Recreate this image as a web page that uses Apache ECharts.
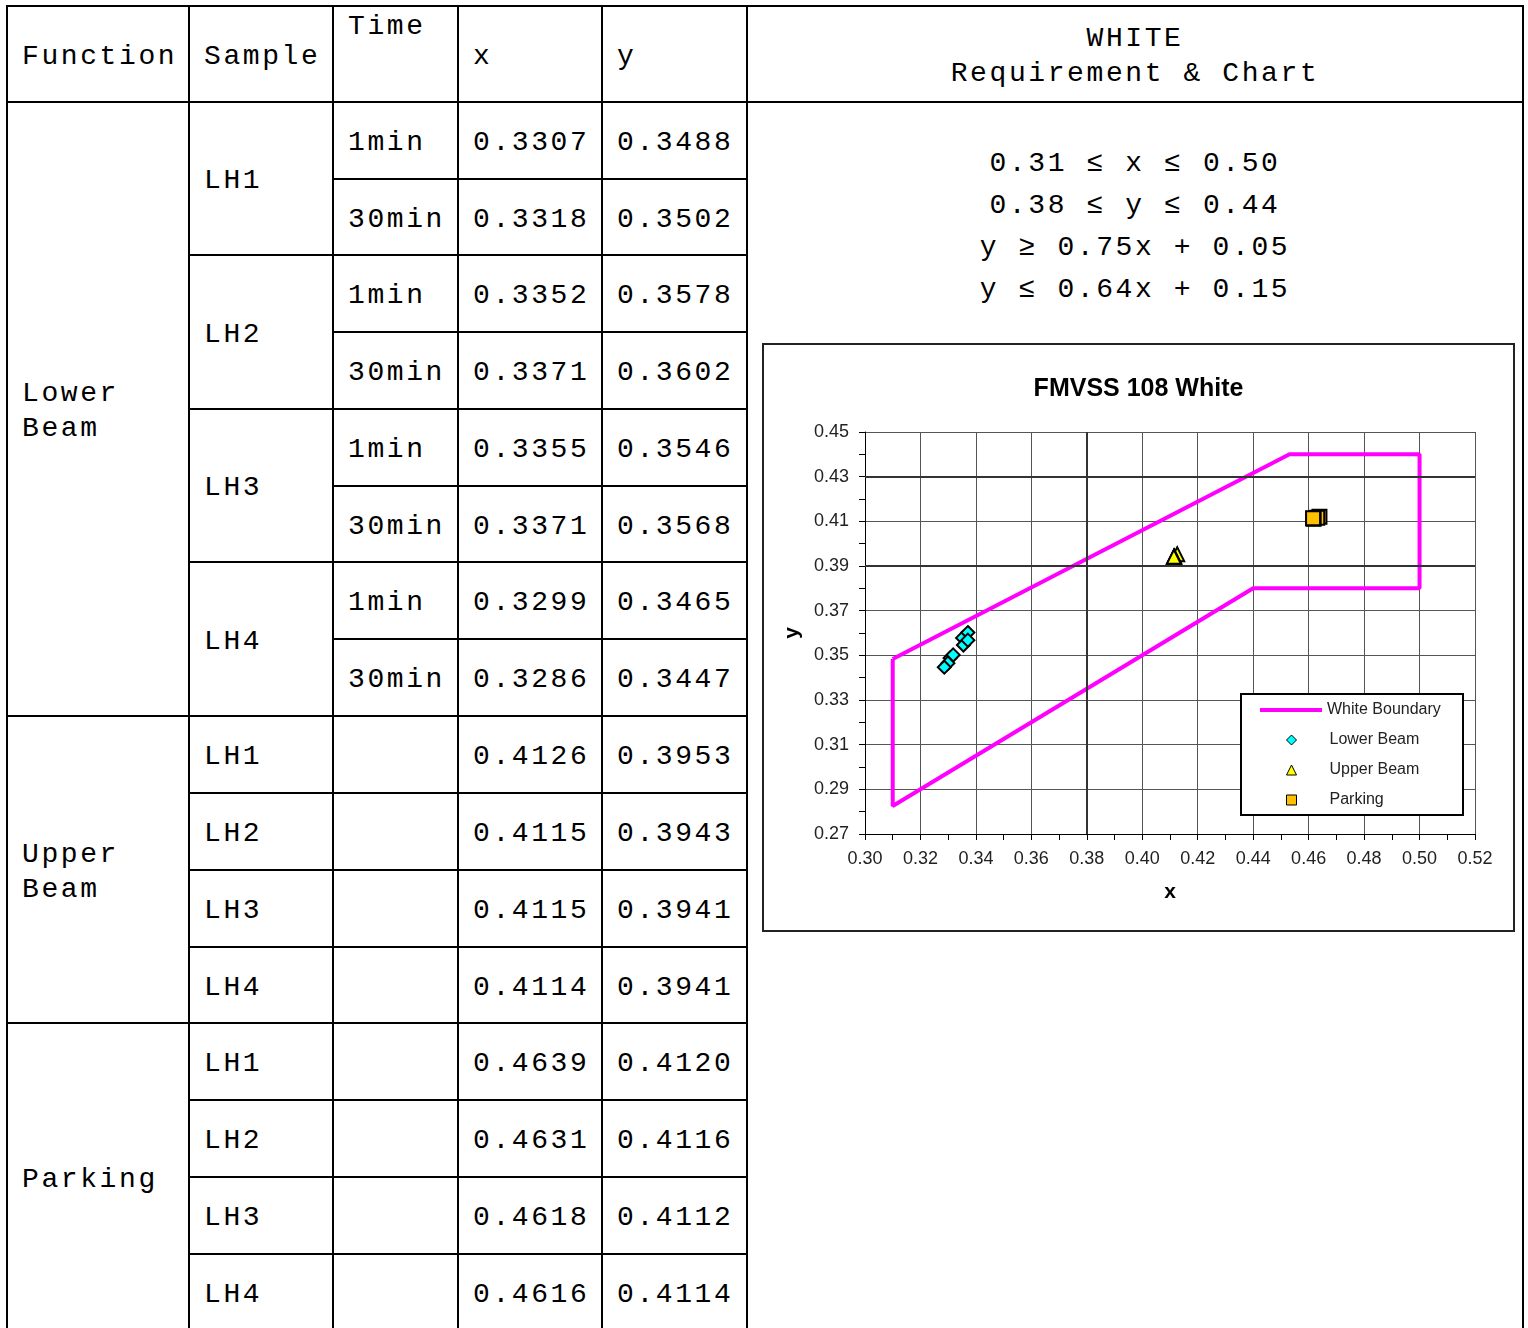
<!DOCTYPE html>
<html>
<head>
<meta charset="utf-8">
<title>WHITE Requirement &amp; Chart</title>
<script src="https://cdn.jsdelivr.net/npm/echarts@6/dist/echarts.min.js"></script>
<style>
html, body {
  margin: 0;
  padding: 0;
  width: 1528px;
  height: 1328px;
  overflow: hidden;
  background: #fff;
}
#tbl {
  position: absolute;
  left: 6px;
  top: 5px;
  display: grid;
  gap: 2px;
  padding: 2px;
  background: #000;
  grid-template-columns: 180px 142px 123px 142px 143px 774px;
  grid-template-rows: 94px 75px 74px 75px 75px 75px 74px 75px 75px 75px 75px 75px 74px 75px 75px 75px 75px;
}
.c {
  background: #fff;
  font-family: "Courier New", "Liberation Mono", monospace;
  font-size: 28px;
  letter-spacing: 2.6px;
  line-height: 35px;
  color: #000;
  display: flex;
  align-items: center;
  padding-left: 14px;
  padding-top: 4px;
  white-space: nowrap;
}
.c.top {
  align-items: flex-start;
  padding-top: 2px;
}
.c.mid {
  justify-content: center;
  text-align: center;
  padding-left: 0;
}
#req {
  position: absolute;
  left: 748px;
  top: 143px;
  width: 774px;
  text-align: center;
  font-family: "Courier New", "Liberation Mono", monospace;
  font-size: 28px;
  letter-spacing: 2.6px;
  line-height: 42px;
  color: #000;
  white-space: pre;
}
#box {
  position: absolute;
  left: 762px;
  top: 343px;
  width: 753px;
  height: 589px;
  box-sizing: border-box;
  border: 2px solid #222;
  background: #fff;
}
#chart {
  width: 749px;
  height: 585px;
}
</style>
</head>
<body>
<div id="tbl"></div>
<div id="req"></div>
<div id="box"><div id="chart"></div></div>

<script>
// measured values
var samples = ["LH1", "LH2", "LH3", "LH4"];
var times = ["1min", "30min"];

var lowerX = [0.3307, 0.3318, 0.3352, 0.3371, 0.3355, 0.3371, 0.3299, 0.3286];
var lowerY = [0.3488, 0.3502, 0.3578, 0.3602, 0.3546, 0.3568, 0.3465, 0.3447];
var upperX = [0.4126, 0.4115, 0.4115, 0.4114];
var upperY = [0.3953, 0.3943, 0.3941, 0.3941];
var parkX = [0.4639, 0.4631, 0.4618, 0.4616];
var parkY = [0.4120, 0.4116, 0.4112, 0.4114];

// white boundary corners
var boundaryX = [0.31, 0.4531, 0.50, 0.50, 0.44, 0.31, 0.31];
var boundaryY = [0.3484, 0.44, 0.44, 0.38, 0.38, 0.2825, 0.3484];

// darker grid lines
var heavyX = [0.38];
var heavyY = [0.39, 0.43];

var reqLines = [
  "0.31 \u2264 x \u2264 0.50",
  "0.38 \u2264 y \u2264 0.44",
  "y \u2265 0.75x + 0.05",
  "y \u2264 0.64x + 0.15"
];

function pairs(xs, ys) {
  return xs.map(function (x, i) {
    return [x, ys[i]];
  });
}

// ---- table ----
var tbl = document.getElementById("tbl");
function cell(html, row, col, span, cls) {
  var d = document.createElement("div");
  d.className = "c" + (cls ? " " + cls : "");
  d.innerHTML = html;
  d.style.gridRow = row + " / span " + (span || 1);
  d.style.gridColumn = col;
  tbl.appendChild(d);
}

cell("Function", 1, 1);
cell("Sample", 1, 2);
cell("Time", 1, 3, 1, "top");
cell("x", 1, 4);
cell("y", 1, 5);
cell("WHITE<br>Requirement &amp; Chart", 1, 6, 1, "mid");

var groups = [
  { name: "Lower<br>Beam", xs: lowerX, ys: lowerY, timed: true },
  { name: "Upper<br>Beam", xs: upperX, ys: upperY, timed: false },
  { name: "Parking", xs: parkX, ys: parkY, timed: false }
];

var row = 2;
groups.forEach(function (g) {
  cell(g.name, row, 1, g.xs.length);
  var per = g.timed ? times.length : 1;
  samples.forEach(function (s, si) {
    cell(s, row + si * per, 2, per);
  });
  g.xs.forEach(function (x, i) {
    cell(g.timed ? times[i % per] : "", row + i, 3);
    cell(x.toFixed(4), row + i, 4);
    cell(g.ys[i].toFixed(4), row + i, 5);
  });
  row += g.xs.length;
});
cell("", 2, 6, row - 2);

document.getElementById("req").textContent = reqLines.join("\n");

// ---- chart ----
var chart = echarts.init(document.getElementById("chart"));

var labelStyle = {
  fontFamily: "Arial",
  fontSize: 18,
  color: "#222",
  margin: 16,
  formatter: function (v) {
    return v.toFixed(2);
  }
};

chart.setOption({
  animation: false,
  title: {
    text: "FMVSS 108 White",
    left: "center",
    top: 27,
    textStyle: {
      fontFamily: "Arial",
      fontSize: 25,
      fontWeight: "bold",
      color: "#000"
    }
  },
  grid: { left: 101, right: 38, top: 87, bottom: 96 },
  graphic: [
    {
      type: "rect",
      z: 3,
      shape: { x: 477, y: 349, width: 222, height: 121 },
      style: { fill: "#fff", stroke: "#000", lineWidth: 2 }
    }
  ],
  legend: [
    {
      data: ["White Boundary"],
      left: 496,
      top: 356,
      padding: 0,
      icon: "rect",
      itemWidth: 62,
      itemHeight: 4,
      selectedMode: false,
      textStyle: { fontFamily: "Arial", fontSize: 16, lineHeight: 18, color: "#222" }
    },
    {
      data: ["Lower Beam", "Upper Beam", "Parking"],
      orient: "vertical",
      left: 522,
      top: 386,
      padding: 0,
      itemWidth: 10,
      itemHeight: 10,
      itemGap: 12,
      selectedMode: false,
      itemStyle: { borderWidth: 1 },
      textStyle: {
        fontFamily: "Arial",
        fontSize: 16,
        lineHeight: 18,
        color: "#222",
        padding: [0, 0, 0, 28]
      }
    }
  ],
  xAxis: {
    type: "value",
    min: 0.30,
    max: 0.52,
    interval: 0.02,
    name: "x",
    nameLocation: "middle",
    nameGap: 48,
    nameTextStyle: { fontFamily: "Arial", fontSize: 21, fontWeight: "bold", color: "#000" },
    axisLine: { show: true, onZero: false, lineStyle: { color: "#000", width: 1 } },
    axisTick: { show: true, length: 6, lineStyle: { color: "#000" } },
    minorTick: { show: true, splitNumber: 2, length: 6, lineStyle: { color: "#000" } },
    axisLabel: labelStyle,
    splitLine: { show: true, lineStyle: { color: "#555", width: 1 } }
  },
  yAxis: {
    type: "value",
    min: 0.27,
    max: 0.45,
    interval: 0.02,
    name: "y",
    nameLocation: "middle",
    nameGap: 58,
    nameTextStyle: { fontFamily: "Arial", fontSize: 21, fontWeight: "bold", color: "#000" },
    axisLine: { show: true, onZero: false, lineStyle: { color: "#000", width: 1 } },
    axisTick: { show: true, length: 6, lineStyle: { color: "#000" } },
    minorTick: { show: true, splitNumber: 2, length: 6, lineStyle: { color: "#000" } },
    axisLabel: labelStyle,
    splitLine: { show: true, lineStyle: { color: "#555", width: 1 } }
  },
  series: [
    {
      name: "grid",
      type: "scatter",
      data: [],
      z: 1,
      markLine: {
        silent: true,
        symbol: "none",
        label: { show: false },
        lineStyle: { color: "#333", width: 2, type: "solid" },
        data: heavyX.map(function (v) { return { xAxis: v }; })
          .concat(heavyY.map(function (v) { return { yAxis: v }; }))
      }
    },
    {
      name: "White Boundary",
      type: "line",
      data: pairs(boundaryX, boundaryY),
      symbol: "none",
      z: 2,
      lineStyle: { color: "#FF00FF", width: 4 },
      itemStyle: { color: "#FF00FF" }
    },
    {
      name: "Lower Beam",
      type: "scatter",
      symbol: "diamond",
      symbolSize: 13,
      z: 3,
      data: pairs(lowerX, lowerY),
      itemStyle: { color: "#00FFFF", borderColor: "#000", borderWidth: 2, opacity: 1 }
    },
    {
      name: "Upper Beam",
      type: "scatter",
      symbol: "triangle",
      symbolSize: 14,
      z: 3,
      data: pairs(upperX, upperY),
      itemStyle: { color: "#FFFF00", borderColor: "#000", borderWidth: 2, opacity: 1 }
    },
    {
      name: "Parking",
      type: "scatter",
      symbol: "rect",
      symbolSize: 14,
      z: 3,
      data: pairs(parkX, parkY),
      itemStyle: { color: "#FFC000", borderColor: "#000", borderWidth: 2, opacity: 1 }
    }
  ]
});
</script>
</body>
</html>
